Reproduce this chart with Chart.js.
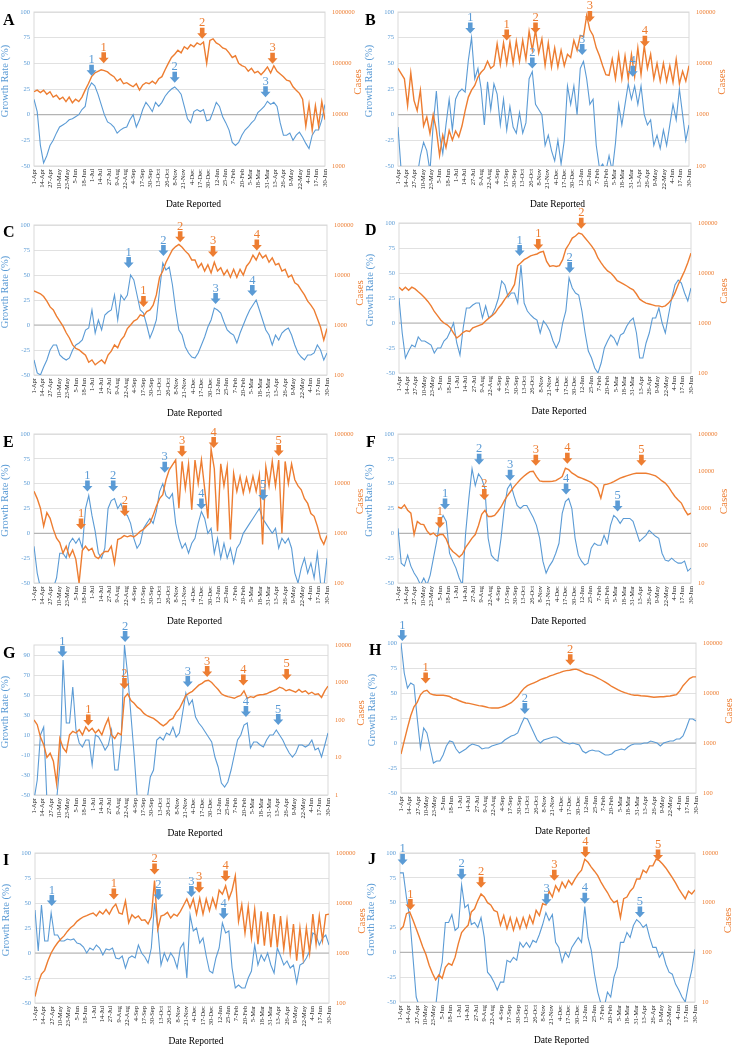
<!DOCTYPE html>
<html>
<head>
<meta charset="utf-8">
<script src="https://cdn.jsdelivr.net/npm/chart.js@4.4.0/dist/chart.umd.min.js"></script>
<style>
  html, body { margin: 0; padding: 0; background: #fff; }
  #page { position: relative; width: 733px; height: 1047px; overflow: hidden; }
  #page canvas { position: absolute; }
  .letter { position: absolute; font: bold 16px "Liberation Serif", "Times New Roman", serif; line-height: 16px; color: #000; }
</style>
</head>
<body>
<div id="page"></div>
<script>
// ---------------------------------------------------------------
// Shared axis data
// ---------------------------------------------------------------
const DATE_TICKS = ["1-Apr","14-Apr","27-Apr","10-May","23-May","5-Jun","18-Jun","1-Jul","14-Jul","27-Jul",
  "9-Aug","22-Aug","4-Sep","17-Sep","30-Sep","13-Oct","26-Oct","8-Nov","21-Nov","4-Dec","17-Dec","30-Dec",
  "12-Jan","25-Jan","7-Feb","20-Feb","5-Mar","18-Mar","31-Mar","13-Apr","26-Apr","9-May","22-May","4-Jun",
  "17-Jun","30-Jun"];

// day index (0 = 1-Apr) of each sampled value
const DAYS = [0,5,10,15,20,25,30,35,40,45, 50,55,60,65,70,75,80,85,90,95,
  100,105,110,115,120,125,130,135,140,145, 150,155,160,165,170,175,180,185,190,195,
  200,205,210,215,220,225,230,235,240,245, 250,255,260,265,270,275,280,285,290,295,
  300,305,310,315,320,325,330,335,340,345, 350,355,360,365,370,375,380,385,390,395,
  400,405,410,415,420,425,430,435,440,445, 450,455];

const G_RATE_TICKS = [-50, -30, -10, 10, 30, 50, 70, 90];

// ---------------------------------------------------------------
// Panel A
// ---------------------------------------------------------------
const A_RATE = [15,3,-30,-47,-40,-30,-25,-18,-12,-10, -8,-5,-4,-2,0,5,8,25,31,28,
  20,10,0,-7,-9,-12,-18,-15,-13,-12, -5,0,-12,-5,5,12,8,3,12,8,
  12,18,22,25,27,24,20,8,-4,-8, 3,5,3,5,-6,-5,3,12,8,-2,
  -8,-15,-27,-30,-27,-20,-15,-12,-8,-5, 2,5,8,13,10,12,8,-8,-20,-20,
  -18,-25,-20,-17,-22,-28,-33,-20,-15,-15, -5,10];
const A_CASES = [28000,30000,27000,30000,25000,28000,22000,24000,20000,22000,
  18000,22000,17000,20000,18000,22000,30000,40000,55000,65000,
  70000,75000,72000,68000,60000,55000,45000,50000,40000,42000,
  38000,35000,40000,30000,38000,42000,40000,45000,40000,50000,
  55000,75000,100000,130000,150000,180000,160000,210000,190000,230000,
  210000,250000,230000,260000,100000,280000,300000,250000,230000,200000,
  190000,160000,130000,140000,100000,90000,85000,70000,80000,65000,
  70000,60000,70000,85000,65000,90000,70000,62000,55000,47000,
  45000,35000,30000,26000,20000,6000,16000,5000,15000,6000, 18000,8000];
const A_RATE_MARKS = [[90,38,"1"],[220,31,"2"],[362,17,"3"]];
const A_CASE_MARKS = [[109,100000,"1"],[263,300000,"2"],[373,98000,"3"]];

// ---------------------------------------------------------------
// Panel B
// ---------------------------------------------------------------
const B_RATE = [-12,-55,-60,-60,-60,-60,-60,-40,-27,-35, -55,-10,23,-20,-38,-10,15,-15,15,22,
  25,22,53,75,35,45,25,-10,32,5, 30,20,-10,15,-15,8,-12,-18,2,-18,
  -8,35,42,10,5,0,-30,-20,-35,-45, -25,-48,-25,28,10,28,0,45,52,35,
  10,15,-30,-52,-48,-55,-40,-55,-28,10, -10,10,30,15,28,10,28,0,-10,-5,
  -30,-20,-33,-15,-30,-10,10,-5,25,0, -25,-10];
const B_CASES = [8000,6300,5000,1500,6500,1900,1200,3000,600,900,
  430,1000,500,160,400,230,490,320,480,370,
  600,1200,2200,3000,3700,5400,6700,7800,11000,8000,
  9000,24000,9500,25000,10000,26000,10000,27000,11000,28000,
  12000,42000,18000,44000,16000,30000,9000,25000,8500,20000,
  8500,18000,9000,15000,13000,28000,18000,35000,33000,85000,
  45000,35000,20000,14000,9000,6000,5800,12000,5000,15000,
  5000,14000,5000,15000,5500,20000,6000,22000,8000,15000,
  5000,10000,4500,10000,4500,9000,4300,12000,4000,7000, 4500,9000];
const B_RATE_MARKS = [[113,79,"1"],[210,45,"2"],[288,58,"3"],[367,37,"4"]];
const B_CASE_MARKS = [[170,28000,"1"],[215,38000,"2"],[300,64000,"3"],[386,21000,"4"]];

// ---------------------------------------------------------------
// Panel C
// ---------------------------------------------------------------
const C_RATE = [-35,-48,-50,-42,-35,-25,-20,-20,-30,-33, -35,-33,-25,-20,-18,-15,-5,-3,15,-8,
  5,-5,10,13,15,30,5,30,25,30, 50,45,30,15,12,0,-13,-5,5,35,
  62,55,58,40,15,-5,-10,-22,-28,-32, -33,-28,-20,-12,-2,5,17,15,12,3,
  -5,-8,-10,-18,-8,0,8,15,20,25, 15,5,-5,-10,-20,-10,-15,-8,-5,-3,
  -10,-20,-28,-32,-35,-30,-30,-28,-20,-25, -35,-28];
const C_CASES = [4800,4500,4200,3700,3000,2300,2000,1500,1200,950,
  700,550,400,340,320,280,250,180,200,160,
  180,200,170,250,300,400,350,500,600,850,
  1000,1200,1300,1600,1500,1850,2000,2500,4000,9000,
  12000,18000,24000,32000,37000,41000,36000,30000,26000,20000,
  20000,14000,17000,12000,16000,11000,18000,12000,14000,10000,
  12600,9000,13000,9000,13000,10000,15000,18000,25000,20000,
  28000,22000,25000,18000,22000,16000,17000,12000,13000,9000,
  10000,7000,6300,5000,4000,3000,2500,2000,1350,900, 500,850];
const C_RATE_MARKS = [[147,57,"1"],[201,69,"2"],[282,21,"3"],[339,29,"4"]];
const C_CASE_MARKS = [[170,2300,"1"],[227,45000,"2"],[278,23000,"3"],[346,31000,"4"]];

// ---------------------------------------------------------------
// Panel D
// ---------------------------------------------------------------
const D_RATE = [25,-10,-35,-28,-22,-24,-14,-18,-18,-20, -22,-30,-25,-25,-18,-15,-8,0,-20,-32,
  -5,15,15,18,20,20,5,17,5,8, 15,25,42,38,26,30,30,20,58,20,
  12,8,5,3,-10,2,-2,-8,-18,-25, -18,0,12,45,35,30,28,12,-10,-28,
  -35,-45,-50,-40,-25,-18,-12,-15,-22,-12, -10,-3,2,5,-10,-35,-35,-20,-10,5,
  5,15,0,-10,8,25,38,43,40,30, 22,35];
const D_CASES = [5200,4500,5200,4500,5200,4800,4200,3700,3200,2700,
  2200,1700,1400,1150,1000,920,800,630,500,560,
  650,700,680,800,850,900,950,1100,1250,1400,
  1600,2000,2400,3000,3700,4500,5900,14000,16000,18500,
  20000,22000,23000,24000,26000,27000,17000,13500,14000,13500,
  14000,18500,30000,38000,50000,55000,63000,60000,50000,42000,
  35000,28000,20000,16000,13000,11000,10000,8500,7000,6500,
  6000,5500,5000,4600,3800,3000,2700,2500,2400,2300,
  2200,2200,2100,2200,2500,3000,4000,5800,8000,11000, 16000,25000];
const D_RATE_MARKS = [[188,67,"1"],[266,50,"2"]];
const D_CASE_MARKS = [[217,29000,"1"],[284,77000,"2"]];

// ---------------------------------------------------------------
// Panel E
// ---------------------------------------------------------------
const E_RATE = [-13,-40,-55,-55,-55,-55,-55,-45,-20,-20, -25,-10,-5,-10,-5,-15,25,38,18,2,
  -20,-25,-15,25,33,35,25,30,20,18, 10,-5,-15,-10,5,10,15,10,22,42,
  50,38,35,40,10,-5,-15,-10,-20,-10, -5,10,22,15,0,5,-20,-5,-25,-10,
  -25,-15,-30,-15,-10,0,5,10,15,20, 25,15,10,5,0,5,-15,-5,-10,-5,
  -15,-40,-50,-35,-25,-40,-30,-45,-20,-50, -55,-25];
const E_CASES = [7000,5000,3200,1400,2600,2000,1200,800,650,400,
  550,340,460,300,100,450,550,450,500,340,
  310,380,430,430,550,250,750,800,900,850,
  900,850,950,1100,1200,1400,1600,2300,3500,5000,
  6000,12000,19000,24000,30000,3200,28000,8000,25000,3000,
  30000,10000,30000,8000,2000,50000,20000,1100,25000,9000,
  22000,750,16000,7000,14000,6500,13000,7000,14000,7000,
  15000,600,22000,9000,28000,9000,30000,1000,28000,10000,
  25000,12000,9000,7500,5000,4000,2500,2200,1400,800, 600,900];
const E_RATE_MARKS = [[83,42,"1"],[123,42,"2"],[203,61,"3"],[260,24,"4"],[356,33,"5"]];
const E_CASE_MARKS = [[73,1200,"1"],[141,2200,"2"],[230,35000,"3"],[279,52000,"4"],[380,36000,"5"]];

// ---------------------------------------------------------------
// Panel F
// ---------------------------------------------------------------
const F_RATE = [5,-30,-33,-22,-33,-40,-45,-52,-45,-52, -42,-25,-8,12,18,12,-20,-28,-35,-45,
  -52,0,35,65,48,60,55,45,-5,-22, -26,-28,-5,25,45,50,38,28,25,28,
  28,22,16,8,-5,-28,-40,-33,-28,-20, -10,20,32,35,25,-5,-22,-28,-32,-30,
  -15,-10,-12,-12,-2,-10,8,18,15,10, 15,15,15,12,2,-8,-5,-2,3,0,
  -3,-5,-20,-27,-28,-25,-28,-30,-30,-28, -38,-35];
const F_CASES = [1100,1000,1250,900,750,200,450,380,370,250,
  200,220,180,200,200,150,90,70,60,50,
  60,90,120,160,200,350,700,900,610,610,
  650,830,1100,1600,2200,2900,3800,4800,6000,7200,
  8500,9800,10000,7200,5500,5300,5300,5300,5400,5600,
  6300,7200,12000,11000,9000,8000,7000,6500,6000,5500,
  5000,4300,3500,1900,4300,4500,4800,5300,5900,6500,
  7000,7500,8000,8500,8800,8800,8800,8800,8500,8000,
  7500,6500,5500,4800,3800,2800,2100,1700,1400,930, 680,750];
const F_RATE_MARKS = [[73,24,"1"],[126,69,"2"],[174,53,"3"],[261,39,"4"],[341,22,"5"]];
const F_CASE_MARKS = [[65,300,"1"],[134,1700,"2"],[214,14000,"3"],[263,16000,"4"],[378,14000,"5"]];

// ---------------------------------------------------------------
// Panel G
// ---------------------------------------------------------------
const G_RATE = [-55,-35,10,18,-55,-55,-55,-55,-20,85, 22,22,58,15,2,-2,5,5,-20,10,
  8,2,-5,0,15,-25,-25,5,100,70, 30,-10,-55,-55,-55,-55,-32,-25,5,8,
  5,12,10,18,8,12,32,52,40,45, 28,22,18,13,8,3,-12,-22,-38,-42,
  -37,-25,-10,5,10,20,22,-3,3,3, 0,-2,5,10,10,15,10,5,-2,-8,
  -12,-8,0,0,-2,0,5,-5,-3,-12, 0,12];
const G_CASES = [100,75,35,22,10,13,8,2,32,18,
  14,40,50,45,55,40,65,50,60,45,
  55,40,70,110,40,32,45,40,400,500,
  330,280,220,190,150,130,120,110,95,80,
  70,80,100,110,160,200,300,450,520,580,
  700,850,950,1100,1150,1000,800,650,500,450,
  420,400,380,420,450,600,380,420,400,450,
  470,480,500,550,600,650,750,700,600,650,
  600,550,650,550,600,500,550,480,500,400, 600,800];
const G_RATE_MARKS = [[44,88,"1"],[141,103,"2"],[238,58,"3"],[328,28,"4"],[378,20,"5"]];
const G_CASE_MARKS = [[84,71,"1"],[140,670,"2"],[268,1400,"3"],[324,830,"4"],[391,1170,"5"]];

// ---------------------------------------------------------------
// Panel H
// ---------------------------------------------------------------
const H_RATE = [100,70,55,60,58,25,-5,15,10,-5, -20,-18,-18,-12,-3,2,1,-6,-10,-8,
  -6,-3,-1,-2,-3,-6,-5,-5,-3,-2, -1,0,3,5,7,8,10,18,25,24,
  17,10,3,0,3,4,5,6,6,4, 1,0,-1,0,-1,-2,-8,-10,-8,-7,
  -8,-8,-10,-12,-12,-11,-8,-7,-6,-7, -4,-2,-1,-1,-1,0,0,2,1,0,
  -3,0,1,2,2,4,4,7,15,24, 24,22];
const H_CASES = [600,1100,2000,3500,5300,6500,9200,10800,11300,9700,
  9200,9000,9000,9000,8800,8500,7800,7500,7000,6600,
  6300,6200,6000,5800,5600,5500,5300,5100,5000,5000,
  5000,5200,5500,5900,6400,7300,8500,10500,12500,14000,
  15000,16000,17000,18500,19500,20500,22000,23000,24500,25500,
  27000,28000,28500,29500,30000,28500,26500,24500,23500,22500,
  21000,19500,18000,16500,15000,13500,12500,11500,10800,10200,
  9700,9300,9000,9000,8800,8700,8600,8400,8200,8300,
  8400,8400,8600,8700,9000,9300,11000,14000,16500,19500, 21000,21000];
const H_RATE_MARKS = [[2,102,"1"],[191,29,"2"]];
const H_CASE_MARKS = [[38,15400,"1"],[261,36000,"2"]];

// ---------------------------------------------------------------
// Panel I
// ---------------------------------------------------------------
const I_RATE = [43,2,48,12,12,40,18,18,12,12, 14,13,14,10,9,6,0,5,3,8,
  5,-2,4,3,5,-5,-6,-3,-15,-5, -3,-5,8,0,-4,-10,5,50,25,-12,
  0,-8,0,-5,-15,5,10,-25,38,22, 25,10,15,-3,-18,-20,-5,5,30,20,
  22,-15,-35,-32,-35,-35,-25,-18,8,-12, -2,-8,0,-12,-20,5,-3,-12,-8,-15,
  -12,-30,-12,-10,-5,2,20,18,8,15, 18,8];
const I_CASES = [135,250,380,450,700,1000,1300,1600,1900,2200,
  2700,3200,3600,4300,4800,5300,5600,6000,6300,5500,
  6800,6000,7400,6000,8000,9500,6300,6000,11000,4000,
  5800,5000,5500,4500,4600,3800,5300,28000,3000,5500,
  5800,6500,5000,6000,5500,6800,9000,12000,8000,12000,
  6000,12500,6000,12000,7000,12500,8000,18000,15000,22000,
  12000,18000,35000,4300,9300,2500,8500,2000,7500,1500,
  6800,1400,6500,1300,6000,1300,5500,1200,4500,1000,
  3800,700,3200,800,3200,1000,6000,1500,5500,1800, 5800,6000];
const I_RATE_MARKS = [[26,47,"1"],[191,53,"2"],[242,56,"3"],[292,34,"4"]];
const I_CASE_MARKS = [[122,11700,"1"],[185,37000,"2"],[254,16000,"3"],[295,27000,"4"]];

// ---------------------------------------------------------------
// Panel J
// ---------------------------------------------------------------
const J_RATE = [80,80,55,35,-5,-45,-55,-55,-55,-55, -55,-55,-25,-10,30,30,38,22,25,68,
  45,48,28,30,25,35,15,-20,-24,-30, -38,-30,-30,-8,-10,-5,-8,10,5,10,
  5,12,10,18,28,40,32,38,10,5, -10,0,-5,5,10,15,10,46,15,2,
  -22,-40,-52,-55,-40,-45,-25,-15,10,10, 20,15,27,33,30,25,28,15,5,5,
  -5,0,-12,-20,-22,-32,-38,-45,-50,-32, -18,3];
const J_CASES = [280,330,600,650,450,300,200,130,90,55,
  38,28,35,30,50,60,55,80,150,250,
  300,350,650,750,1100,1500,1300,1000,900,700,
  650,350,550,300,500,280,480,300,500,320,
  550,380,700,550,950,900,1700,1300,2200,1700,
  2600,2000,2800,2300,3000,3800,4500,7500,6500,5200,
  4300,3500,2600,2000,1600,1200,1000,1100,500,1200,
  1300,1700,2000,3000,3000,4500,4000,5500,5500,7500,
  7000,6000,5000,4000,3200,2500,1900,1500,1200,1700, 1500,1800];
const J_RATE_MARKS = [[4,88,"1"],[95,73,"2"],[226,48,"3"],[285,49,"4"],[370,35,"5"]];
const J_CASE_MARKS = [[16,710,"1"],[125,2000,"2"],[238,2750,"3"],[286,8100,"4"],[398,7100,"5"]];

// ---------------------------------------------------------------
// Layout and styling
// ---------------------------------------------------------------
const BLUE = "#5B9BD5";
const ORANGE = "#ED7D31";
const FONT = "'Liberation Serif', 'Times New Roman', serif";
Chart.defaults.font.family = FONT;

// box: [canvasLeft, plotLeft, plotRight, plotTop, plotBottom]; letter: [left, top]
const PANELS = [
  { id: "A", rate: A_RATE, cases: A_CASES, rm: A_RATE_MARKS, cm: A_CASE_MARKS, cmin: 1e3, cmax: 1e6, box: [0, 34, 325, 12, 166], letter: [3, 12] },
  { id: "B", rate: B_RATE, cases: B_CASES, rm: B_RATE_MARKS, cm: B_CASE_MARKS, cmin: 1e2, cmax: 1e5, box: [362, 398, 689, 12, 166], letter: [365, 12] },
  { id: "C", rate: C_RATE, cases: C_CASES, rm: C_RATE_MARKS, cm: C_CASE_MARKS, cmin: 1e2, cmax: 1e5, box: [0, 34, 327, 225, 375], letter: [3, 224] },
  { id: "D", rate: D_RATE, cases: D_CASES, rm: D_RATE_MARKS, cm: D_CASE_MARKS, cmin: 1e2, cmax: 1e5, box: [362, 399, 691, 223, 373], letter: [365, 222] },
  { id: "E", rate: E_RATE, cases: E_CASES, rm: E_RATE_MARKS, cm: E_CASE_MARKS, cmin: 1e2, cmax: 1e5, box: [0, 34, 327, 434, 583], letter: [3, 434] },
  { id: "F", rate: F_RATE, cases: F_CASES, rm: F_RATE_MARKS, cm: F_CASE_MARKS, cmin: 1e1, cmax: 1e5, box: [362, 398, 691, 434, 583], letter: [366, 434] },
  { id: "G", rate: G_RATE, cases: G_CASES, rm: G_RATE_MARKS, cm: G_CASE_MARKS, cmin: 1, cmax: 1e4, box: [0, 34, 328, 645, 795], letter: [3, 645], rateTicks: G_RATE_TICKS },
  { id: "H", rate: H_RATE, cases: H_CASES, rm: H_RATE_MARKS, cm: H_CASE_MARKS, cmin: 1e2, cmax: 1e5, box: [362, 401, 696, 643, 793], letter: [369, 642] },
  { id: "I", rate: I_RATE, cases: I_CASES, rm: I_RATE_MARKS, cm: I_CASE_MARKS, cmin: 1e2, cmax: 1e5, box: [0, 35, 329, 853, 1003], letter: [3, 852] },
  { id: "J", rate: J_RATE, cases: J_CASES, rm: J_RATE_MARKS, cm: J_CASE_MARKS, cmin: 1e1, cmax: 1e4, box: [362, 400, 695, 853, 1002], letter: [368, 851] }
];

const TOP_PAD = 40;
const X_AXIS_H = 46;

function drawArrow(ctx, x, y, color, label) {
  ctx.fillStyle = color;
  ctx.beginPath();
  ctx.moveTo(x, y);
  ctx.lineTo(x - 5, y - 5.5);
  ctx.lineTo(x - 2.3, y - 5.5);
  ctx.lineTo(x - 2.3, y - 11);
  ctx.lineTo(x + 2.3, y - 11);
  ctx.lineTo(x + 2.3, y - 5.5);
  ctx.lineTo(x + 5, y - 5.5);
  ctx.closePath();
  ctx.fill();
  ctx.font = "12.5px " + FONT;
  ctx.textAlign = "center";
  ctx.textBaseline = "alphabetic";
  ctx.fillText(label, x, y - 12.5);
}

function vText(ctx, text, x, y, color, size) {
  ctx.save();
  ctx.translate(x, y);
  ctx.rotate(-Math.PI / 2);
  ctx.font = size + "px " + FONT;
  ctx.fillStyle = color;
  ctx.textAlign = "center";
  ctx.textBaseline = "middle";
  ctx.fillText(text, 0, 0);
  ctx.restore();
}

function makeOverlay(p) {
  return {
    id: "overlay" + p.id,
    beforeDatasetsDraw(chart) {
      const { ctx, chartArea: a, scales } = chart;
      const y0 = scales.y.getPixelForValue(0);
      ctx.save();
      ctx.strokeStyle = "#d9d9d9";
      ctx.lineWidth = 1;
      ctx.strokeRect(a.left, a.top, a.right - a.left, a.bottom - a.top);
      ctx.strokeStyle = "#b4b4b4";
      ctx.lineWidth = 1.1;
      ctx.beginPath();
      ctx.moveTo(a.left, y0);
      ctx.lineTo(a.right, y0);
      ctx.stroke();
      ctx.restore();
    },
    afterDatasetsDraw(chart) {
      const { ctx, scales } = chart;
      ctx.save();
      p.rm.forEach(m => drawArrow(ctx, scales.x.getPixelForValue(m[0]), scales.y.getPixelForValue(m[1]), BLUE, m[2]));
      p.cm.forEach(m => drawArrow(ctx, scales.x.getPixelForValue(m[0]), scales.y2.getPixelForValue(m[1]), ORANGE, m[2]));
      ctx.restore();
    },
    afterDraw(chart) {
      const { ctx, chartArea: a } = chart;
      const mid = (a.top + a.bottom) / 2;
      vText(ctx, "Growth Rate (%)", a.left - 29, mid - 8, BLUE, 10.5);
      vText(ctx, "Cases", a.right + 33.5, mid - 7, ORANGE, 11);
      ctx.save();
      ctx.font = "9.5px " + FONT;
      ctx.fillStyle = "#000";
      ctx.textAlign = "center";
      ctx.textBaseline = "middle";
      ctx.fillText("Date Reported", (a.left + a.right) / 2 + 14, a.bottom + 38);
      ctx.restore();
    }
  };
}

const page = document.getElementById("page");

PANELS.forEach(p => {
  const [cl, pl, pr, pt, pb] = p.box;
  const cw = cl === 0 ? 366 : 371;
  const ch = TOP_PAD + (pb - pt) + X_AXIS_H;

  const canvas = document.createElement("canvas");
  canvas.width = cw;
  canvas.height = ch;
  canvas.style.left = cl + "px";
  canvas.style.top = (pt - TOP_PAD) + "px";
  canvas.style.width = cw + "px";
  canvas.style.height = ch + "px";
  page.appendChild(canvas);

  const letter = document.createElement("div");
  letter.className = "letter";
  letter.textContent = p.id;
  letter.style.left = p.letter[0] + "px";
  letter.style.top = p.letter[1] + "px";
  page.appendChild(letter);

  const caseTicks = [];
  for (let v = p.cmin; v <= p.cmax * 1.0001; v *= 10) caseTicks.push(v);

  new Chart(canvas, {
    type: "line",
    data: {
      datasets: [
        {
          label: "Cases",
          data: DAYS.map((d, i) => ({ x: d, y: p.cases[i] })),
          yAxisID: "y2",
          borderColor: ORANGE,
          borderWidth: 1.4
        },
        {
          label: "Growth Rate (%)",
          data: DAYS.map((d, i) => ({ x: d, y: p.rate[i] })),
          yAxisID: "y",
          borderColor: BLUE,
          borderWidth: 1.1
        }
      ]
    },
    options: {
      responsive: false,
      animation: false,
      events: [],
      layout: { padding: { top: TOP_PAD, left: 0, right: 0, bottom: 0 } },
      elements: { point: { radius: 0 }, line: { tension: 0 } },
      plugins: { legend: { display: false }, tooltip: { enabled: false } },
      scales: {
        x: {
          type: "linear",
          min: 0,
          max: 455,
          grid: { display: false, drawTicks: false },
          border: { display: false },
          afterBuildTicks: s => { s.ticks = DATE_TICKS.map((_, i) => ({ value: i * 13 })); },
          afterFit: s => { s.height = X_AXIS_H; },
          ticks: {
            autoSkip: false,
            minRotation: 90,
            maxRotation: 90,
            padding: 3,
            color: "#222",
            font: { size: 6.5 },
            callback: v => DATE_TICKS[Math.round(v / 13)]
          }
        },
        y: {
          position: "left",
          min: -50,
          max: 100,
          grid: { color: "#d9d9d9", lineWidth: 0.8, drawTicks: false },
          border: { display: false },
          afterBuildTicks: p.rateTicks ? (s => { s.ticks = p.rateTicks.map(v => ({ value: v })); }) : undefined,
          afterFit: s => { s.width = pl - cl; },
          ticks: { stepSize: 25, color: BLUE, padding: 4, font: { size: 6.5 }, callback: v => String(v) }
        },
        y2: {
          type: "logarithmic",
          position: "right",
          min: p.cmin,
          max: p.cmax,
          grid: { display: false, drawTicks: false },
          border: { display: false },
          afterBuildTicks: s => { s.ticks = caseTicks.map(v => ({ value: v })); },
          afterFit: s => { s.width = cl + cw - pr; },
          ticks: { color: ORANGE, padding: 7, font: { size: 6.5 }, callback: v => String(Math.round(v)) }
        }
      }
    },
    plugins: [makeOverlay(p)]
  });
});
</script>
</body>
</html>
